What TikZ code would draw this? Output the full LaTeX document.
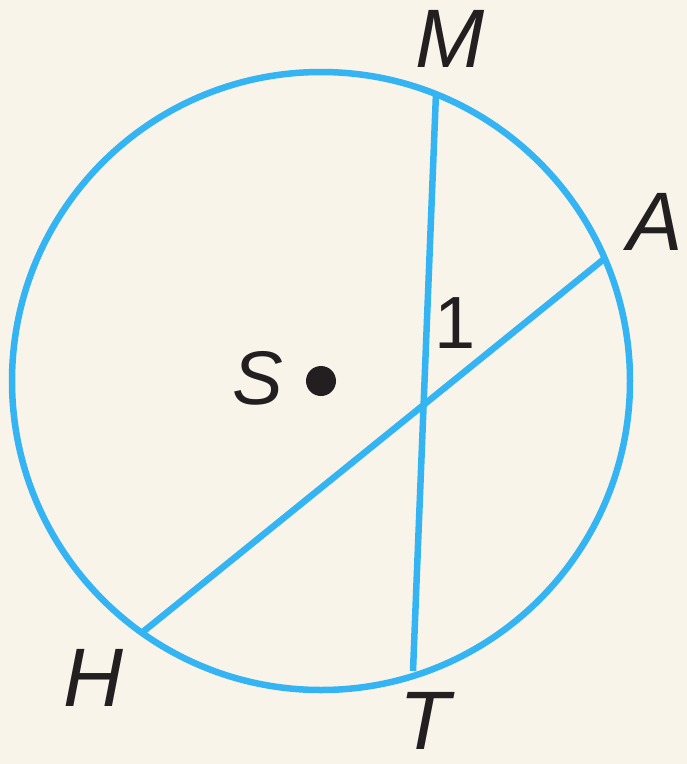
\documentclass[tikz,border=0pt]{standalone}
\usepackage{fontspec}
\setmainfont{Liberation Sans}
\definecolor{bg}{RGB}{248,244,234}
\definecolor{cblue}{RGB}{52,180,242}
\definecolor{ink}{RGB}{35,31,32}
\begin{document}
\begin{tikzpicture}[x=1pt,y=-1pt,
  chord/.style={draw=cblue,line width=6.5pt},
  lbl/.style={text=ink,inner sep=0pt,font=\fontsize{83}{90}\selectfont\itshape}]
\fill[bg] (0,0) rectangle (687,764);
\useasboundingbox (0,0) rectangle (687,764);
\coordinate (S) at (321,381);
\draw[chord] (S) circle[radius=309];
\coordinate (M) at (436,93);
\coordinate (T) at (413,671);
\coordinate (A) at (604,259);
\coordinate (H) at (144,631);
\draw[chord] (M) -- (T);
\draw[chord] (A) -- (H);
\fill[ink] (S) circle[radius=15];
\node[lbl] (lM) at (450,39) {M};
\node[lbl] (lA) at (655,222) {A};
\node[lbl] (lH) at (93,678) {H};
\node[lbl] (lT) at (425,721) {T};
\node[lbl,font=\fontsize{76}{80}\selectfont\itshape] (lS) at (258,378) {S};
\node[text=ink,inner sep=0pt,font=\fontsize{74}{80}\selectfont] (l1) at (455,323) {1};
\end{tikzpicture}
\end{document}
